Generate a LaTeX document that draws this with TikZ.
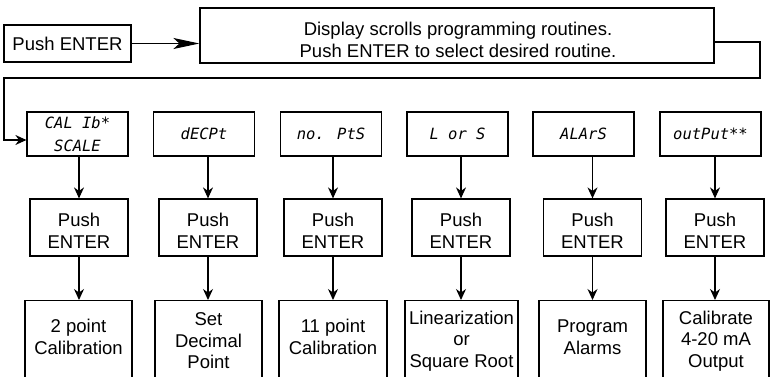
\documentclass[tikz,border=0pt]{standalone}
\usepackage{fontspec}
\setmainfont{Liberation Sans}
\newfontfamily\lcdfont{DejaVu Sans Mono}
\usetikzlibrary{arrows.meta}
\begin{document}
\begin{tikzpicture}[x=1pt,y=-1pt, line width=1.2pt,
  shapebox/.style={draw, rectangle, inner sep=0pt},
  txt/.style={inner sep=0pt, align=center, font=\fontsize{18.5}{21.5}\selectfont},
  lcd/.style={draw, rectangle, inner sep=0pt, align=center, minimum width=101, minimum height=44, font=\lcdfont\itshape\fontsize{15.5}{23}\selectfont},
  pbox/.style={shapebox, minimum width=98, minimum height=57},
  rbox/.style={shapebox, anchor=north, minimum height=100},
  arr/.style={-{Stealth[length=11pt,width=10pt]}},
  longarr/.style={-{Stealth[length=26pt,width=11pt,inset=6pt]}}]
\useasboundingbox (0,0) rectangle (771,377);
\clip (0,0) rectangle (771,377);
\fill[white] (0,0) rectangle (771,377);
% top
\node[shapebox, txt, minimum width=127, minimum height=37] (start) at (67.5,43.5) {Push ENTER};
\node[shapebox, minimum width=514, minimum height=55] (big) at (457,35.5) {};
\node[txt] (bigtext) at (458,40) {Display scrolls programming routines.\\Push ENTER to select desired routine.};
\draw[longarr] (start.east) -- (big.west |- start.east);
% displays
\node[lcd] (d1) at (77.5,134) {CAL Ib*\\SCALE};
\node[lcd] (d2) at (204,134) {dECPt};
\node[lcd] (d3) at (331,134) {no. PtS};
\node[lcd] (d4) at (457.5,134) {L or S};
\node[lcd] (d5) at (583.5,134) {ALArS};
\node[lcd] (d6) at (710.5,134) {outPut**};
% feedback loop
\coordinate (f0) at (714,42);
\coordinate (f1) at (760,42);
\coordinate (f2) at (760,78);
\coordinate (f3) at (4,78);
\coordinate (f4) at (4,140);
\draw[arr] (f0) -- (f1) -- (f2) -- (f3) -- (f4) -- (d1.west |- f4);
% push enter boxes
\foreach \i/\x in {1/79,2/208,3/333,4/461,5/592.5,6/715}{
  \node[pbox] (p\i) at (\x,227.5) {};
  \node[txt] (pt\i) at (\x,231) {Push\\ENTER};
}
% result boxes
\node[rbox, minimum width=107] (r1) at (78.5,300) {};
\node[rbox, minimum width=107] (r2) at (208.5,300) {};
\node[rbox, minimum width=108] (r3) at (333,300) {};
\node[rbox, minimum width=113] (r4) at (461.5,300) {};
\node[rbox, minimum width=107] (r5) at (592.5,300) {};
\node[rbox, minimum width=106] (r6) at (716,300) {};
\node[txt] (t1) at (78.5,337) {2 point\\Calibration};
\node[txt] (t2) at (208.5,341) {Set\\Decimal\\Point};
\node[txt] (t3) at (333,337) {11 point\\Calibration};
\node[txt] (t4) at (461.5,341) {Linearization\\or\\Square Root};
\node[txt] (t5) at (592.5,337) {Program\\Alarms};
\node[txt] (t6) at (716,341) {Calibrate\\4-20 mA\\Output};
% arrows
\foreach \i in {1,...,6}{
  \draw[arr] (p\i.north |- d\i.south) -- (p\i.north);
  \draw[arr] (p\i.south) -- (p\i.south |- r\i.north);
}
\end{tikzpicture}
\end{document}
